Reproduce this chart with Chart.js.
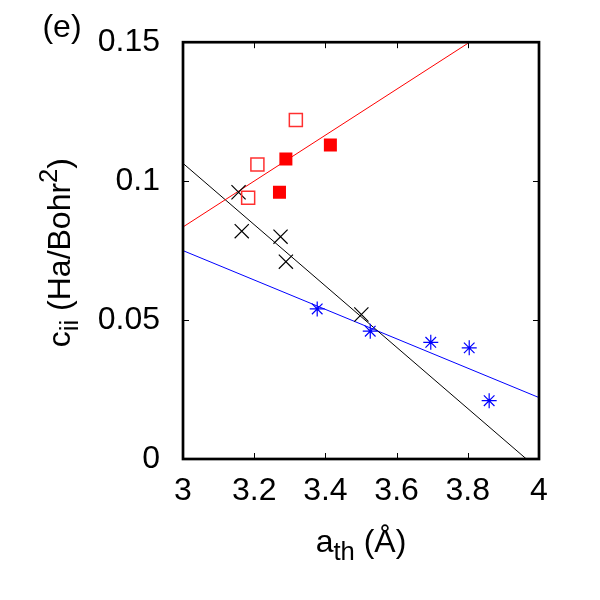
<!DOCTYPE html>
<html>
<head>
<meta charset="utf-8">
<script src="https://cdn.jsdelivr.net/npm/chart.js@4/dist/chart.umd.min.js"></script>
<style>
  html, body { margin: 0; padding: 0; background: #fff; }
  canvas { display: block; }
</style>
</head>
<body>
<canvas id="c" width="600" height="600"></canvas>
<script>
// ---- data ----
const xTicks = [3, 3.2, 3.4, 3.6, 3.8, 4];
const xTickLabels = ['3', '3.2', '3.4', '3.6', '3.8', '4'];
const yTicks = [0, 0.05, 0.1, 0.15];
const yTickLabels = ['0', '0.05', '0.1', '0.15'];

const redOpenX = [3.183, 3.209, 3.317];
const redOpenY = [0.094, 0.106, 0.122];
const redFilledX = [3.271, 3.289, 3.414];
const redFilledY = [0.096, 0.108, 0.113];
const blackX = [3.156, 3.165, 3.274, 3.289, 3.501];
const blackY = [0.096, 0.082, 0.080, 0.071, 0.052];
const blueX = [3.377, 3.526, 3.696, 3.804, 3.860];
const blueY = [0.054, 0.046, 0.042, 0.040, 0.021];

// linear fits: value at x=3 and slope
const fitRange = [3, 4];
const redFit = [0.0835, 0.0826];
const blackFit = [0.1064, -0.1103];
const blueFit = [0.0750, -0.0529];

const FONT = "'Liberation Sans', Arial, Helvetica, sans-serif";

function pts(xs, ys) { return xs.map((x, i) => ({ x: x, y: ys[i] })); }
function fitPts(f) { return fitRange.map(x => ({ x: x, y: f[0] + f[1] * (x - 3) })); }

function drawRich(ctx, segs, cx, by) {
  let total = 0;
  segs.forEach(s => { ctx.font = s.size + 'px ' + FONT; s.w = ctx.measureText(s.text).width; total += s.w; });
  let x = cx - total / 2;
  ctx.textAlign = 'left';
  ctx.textBaseline = 'alphabetic';
  segs.forEach(s => { ctx.font = s.size + 'px ' + FONT; ctx.fillText(s.text, x, by + (s.dy || 0)); x += s.w; });
}

const framePlugin = {
  id: 'frame',
  afterDraw(chart) {
    const ctx = chart.ctx;
    const a = chart.chartArea;
    const xs = chart.scales.x, ys = chart.scales.y;
    ctx.save();
    ctx.strokeStyle = '#000';
    ctx.lineWidth = 1;
    const tl = 6;
    ctx.beginPath();
    xTicks.forEach(v => {
      const p = Math.round(xs.getPixelForValue(v)) + 0.5;
      ctx.moveTo(p, a.bottom); ctx.lineTo(p, a.bottom - tl);
      ctx.moveTo(p, a.top); ctx.lineTo(p, a.top + tl);
    });
    yTicks.forEach(v => {
      const p = Math.round(ys.getPixelForValue(v)) + 0.5;
      ctx.moveTo(a.left, p); ctx.lineTo(a.left + tl, p);
      ctx.moveTo(a.right, p); ctx.lineTo(a.right - tl, p);
    });
    ctx.stroke();
    ctx.lineWidth = 2.7;
    ctx.strokeRect(a.left, a.top, a.right - a.left, a.bottom - a.top);

    ctx.fillStyle = '#000';
    // panel label
    ctx.font = '32px ' + FONT;
    ctx.textAlign = 'center';
    ctx.textBaseline = 'alphabetic';
    ctx.fillText('(e)', 62, 37);

    // x axis title
    drawRich(ctx, [
      { text: 'a', size: 32 },
      { text: 'th', size: 25.6, dy: 8 },
      { text: ' (Å)', size: 32 }
    ], (a.left + a.right) / 2, 552);

    // y axis title
    ctx.translate(70, (a.top + a.bottom) / 2 + 2);
    ctx.rotate(-Math.PI / 2);
    drawRich(ctx, [
      { text: 'c', size: 32 },
      { text: 'ii', size: 25.6, dy: 8 },
      { text: ' (Ha/Bohr', size: 32 },
      { text: '2', size: 25.6, dy: -13 },
      { text: ')', size: 32 }
    ], 0, 0);
    ctx.restore();
  }
};

new Chart(document.getElementById('c'), {
  type: 'scatter',
  data: {
    datasets: [
      { data: fitPts(redFit), showLine: true, borderColor: '#ff0000', borderWidth: 1, pointRadius: 0, order: 5 },
      { data: fitPts(blackFit), showLine: true, borderColor: '#000000', borderWidth: 1, pointRadius: 0, order: 5 },
      { data: fitPts(blueFit), showLine: true, borderColor: '#0000ff', borderWidth: 1, pointRadius: 0, order: 5 },
      { data: pts(redOpenX, redOpenY), pointStyle: 'rect', pointRadius: 9.2, borderColor: '#ff3030', backgroundColor: 'rgba(0,0,0,0)', borderWidth: 1.5 },
      { data: pts(redFilledX, redFilledY), pointStyle: 'rect', pointRadius: 9.2, borderColor: '#ff0000', backgroundColor: '#ff0000', borderWidth: 0 },
      { data: pts(blackX, blackY), pointStyle: 'crossRot', pointRadius: 10, borderColor: '#000000', borderWidth: 1.2 },
      { data: pts(blueX, blueY), pointStyle: 'star', pointRadius: 7.5, borderColor: '#0000ff', borderWidth: 1.2 }
    ]
  },
  options: {
    responsive: false,
    animation: false,
    events: [],
    layout: { padding: { left: 0, top: 33, right: 61, bottom: 0 } },
    plugins: { legend: { display: false }, tooltip: { enabled: false } },
    scales: {
      x: {
        type: 'linear', min: 3, max: 4,
        grid: { display: false, drawTicks: false },
        border: { display: false },
        afterBuildTicks: s => { s.ticks = xTicks.map(v => ({ value: v })); },
        afterFit: s => { s.height = 141; },
        ticks: { color: '#000', font: { family: FONT, size: 32 }, padding: 13, maxRotation: 0,
                 callback: (v, i) => xTickLabels[i] }
      },
      y: {
        type: 'linear', min: 0, max: 0.15,
        grid: { display: false, drawTicks: false },
        border: { display: false },
        afterBuildTicks: s => { s.ticks = yTicks.map(v => ({ value: v })); },
        afterFit: s => { s.width = 183; },
        ticks: { color: '#000', font: { family: FONT, size: 32 }, padding: 23,
                 callback: (v, i) => yTickLabels[i] }
      }
    }
  },
  plugins: [framePlugin]
});
</script>
</body>
</html>
